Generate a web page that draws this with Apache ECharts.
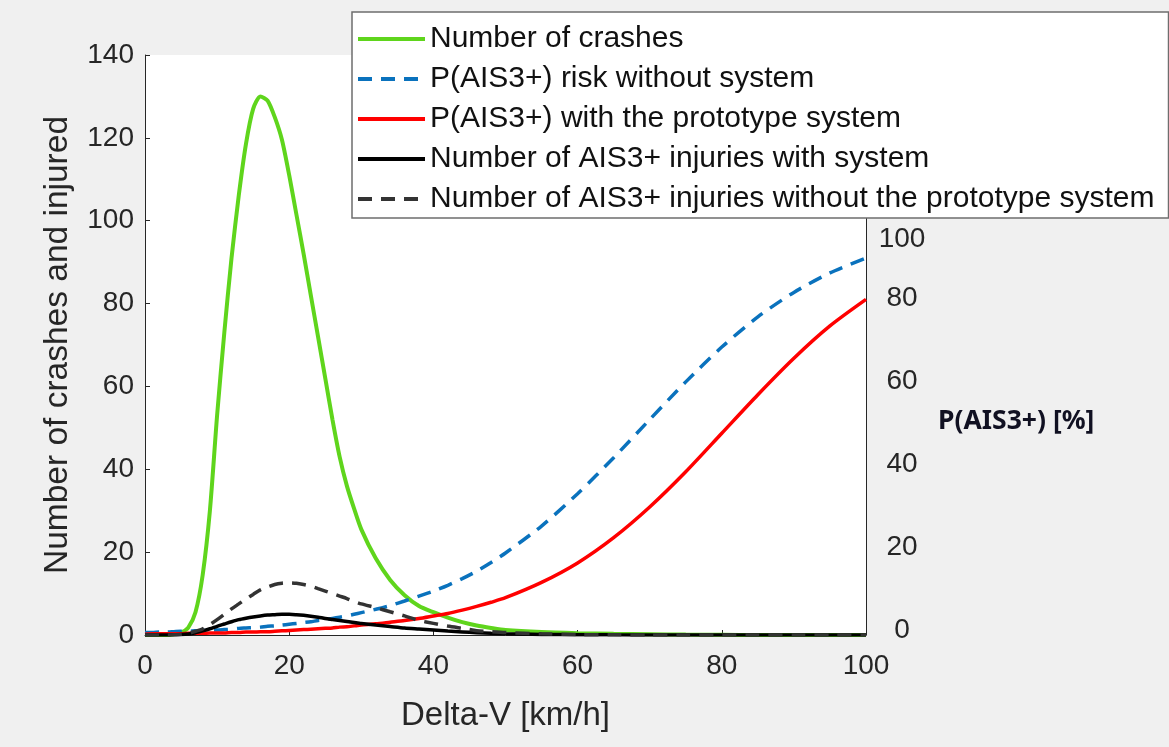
<!DOCTYPE html>
<html>
<head>
<meta charset="utf-8">
<script src="https://cdn.jsdelivr.net/npm/echarts@6/dist/echarts.min.js"></script>
<style>
html,body{margin:0;padding:0;background:#f0f0f0;}
#chart{width:1169px;height:747px;}
</style>
</head>
<body>
<div id="chart"></div>
<script>
// Delta-V [km/h]
const speeds = [0,1,2,3,4,5,6,7,8,9,10,11,12,13,14,15,16,17,18,19,20,21,22,23,24,25,26,27,28,29,30,
  32,34,36,38,40,42,44,46,48,50,55,60,65,70,75,80,85,90,95,100];
// Number of crashes
const crashes = [0,0,0,0,0.2,0.6,1.8,5.5,14.5,30,53,73,91,106,118.5,127,130,129,125,119.5,111,101.5,92,82,72,62,52,43,36,30.5,25.5,
  18.5,13.3,9.6,7,5.5,4.2,3.1,2.3,1.7,1.2,0.7,0.45,0.3,0.2,0.1,0.05,0,0,0,0];
// P(AIS3+) risk without system [%]
const riskWithout = [0.6,0.6,0.7,0.7,0.8,0.9,0.9,1.0,1.1,1.2,1.2,1.3,1.4,1.6,1.7,1.8,1.9,2.1,2.2,2.4,2.6,2.8,3.0,3.2,3.5,3.7,4.0,4.3,4.6,5.0,5.4,
  6.2,7.1,8.2,9.4,10.6,12.0,13.6,15.4,17.5,19.8,26.3,34.1,42.8,52,61.1,69.5,76.8,82.7,87.4,91];
// P(AIS3+) with the prototype system [%]
const riskWith = [0.2,0.3,0.3,0.3,0.3,0.3,0.4,0.4,0.4,0.5,0.5,0.5,0.6,0.6,0.7,0.7,0.8,0.8,0.9,1.0,1.1,1.2,1.3,1.4,1.5,1.6,1.7,1.9,2.0,2.2,2.4,
  2.7,3.1,3.5,4.0,4.6,5.2,6.0,6.9,7.9,9.0,12.7,17.4,23.5,30.9,39.4,48.7,58,66.8,74.6,81];
// Number of AIS3+ injuries with system
const injWith = [0,0,0,0,0.05,0.1,0.25,0.55,1.0,1.5,2.1,2.65,3.2,3.7,4.05,4.35,4.6,4.8,4.9,5.0,5.0,4.9,4.75,4.55,4.3,4.0,3.75,3.5,3.25,3.0,2.8,
  2.4,2.05,1.7,1.45,1.2,0.95,0.75,0.55,0.4,0.3,0.15,0.08,0.04,0.02,0,0,0,0,0,0];
// Number of AIS3+ injuries without the prototype system
const injWithout = [0,0,0,0,0.05,0.15,0.4,0.9,1.5,2.5,3.7,5.0,6.3,7.5,8.7,9.8,10.9,11.6,12.2,12.5,12.6,12.5,12.2,11.8,11.2,10.6,10.0,9.4,8.8,8.1,7.5,
  6.6,5.6,4.6,3.5,2.8,2.15,1.6,1.05,0.8,0.6,0.3,0.1,0.05,0,0,0,0,0,0,0];

const seriesNames = ['Number of crashes','P(AIS3+) risk without system','P(AIS3+) with the prototype system',
  'Number of AIS3+ injuries with system','Number of AIS3+ injuries without the prototype system'];
const xTicks = [0,20,40,60,80,100];
const leftTicks = [0,20,40,60,80,100,120,140];
const rightTicks = [0,20,40,60,80,100];

const pair = arr => speeds.map((v,i)=>[v,arr[i]]);
const txt = '#262626';
const font = 'Liberation Sans, Arial, Helvetica, sans-serif';

const chart = echarts.init(document.getElementById('chart'));
chart.setOption({
  backgroundColor:'#f0f0f0',
  animation:false,
  textStyle:{fontFamily:font},
  grid:{left:145,right:303,top:55,bottom:112,show:true,backgroundColor:'#ffffff',borderWidth:0,containLabel:false},
  legend:{
    orient:'vertical',left:352,top:12,
    padding:[12,14,4,4],
    itemWidth:67,itemHeight:14,itemGap:10,
    backgroundColor:'#ffffff',borderColor:'#6e6e6e',borderWidth:1.5,
    itemStyle:{color:'rgba(0,0,0,0)',borderColor:'rgba(0,0,0,0)',borderWidth:0},
    lineStyle:{width:4},
    textStyle:{fontSize:30,color:'#111',lineHeight:30,fontFamily:font},
    data:seriesNames
  },
  xAxis:{
    type:'value',min:0,max:100,interval:20,
    name:'Delta-V [km/h]',nameLocation:'middle',nameGap:64,
    nameTextStyle:{fontSize:33,color:txt,fontFamily:font},
    axisLine:{show:true,onZero:false,lineStyle:{color:txt,width:1}},
    axisTick:{show:true,inside:true,length:5,lineStyle:{color:txt}},
    axisLabel:{fontSize:28,color:txt,margin:17,fontFamily:font},
    splitLine:{show:false}
  },
  yAxis:[{
    type:'value',min:0,max:140,interval:20,position:'left',
    name:'Number of crashes and injured',nameLocation:'middle',nameGap:70,
    nameTextStyle:{fontSize:33.5,color:txt,fontFamily:font},
    axisLine:{show:true,lineStyle:{color:txt,width:1}},
    axisTick:{show:true,inside:true,length:5,lineStyle:{color:txt}},
    axisLabel:{fontSize:28,color:txt,margin:11,fontFamily:font,
      formatter:v=>leftTicks.indexOf(v)>=0?String(v):''},
    splitLine:{show:false}
  },{
    type:'value',min:0,max:140,interval:20,position:'right',
    axisLine:{show:true,lineStyle:{color:txt,width:1}},
    axisTick:{show:false},
    axisLabel:{fontSize:28,color:txt,margin:36,align:'center',fontFamily:font,
      formatter:v=>{
        if(rightTicks.indexOf(v)<0) return '';
        return v===100?'{d|'+v+'}':'{u|'+v+'}';
      },
      rich:{
        u:{fontSize:28,color:txt,fontFamily:font,padding:[0,0,10,0]},
        d:{fontSize:28,color:txt,fontFamily:font,padding:[38,0,0,0]}
      }
    },
    splitLine:{show:false}
  }],
  graphic:[{
    type:'text',left:938,top:408,
    style:{text:'P(AIS3+) [%]',font:'bold 26.5px "Noto Sans", "Open Sans", sans-serif',fill:'#111122'}
  }],
  series:[
    {name:seriesNames[0],type:'line',data:pair(crashes),symbol:'none',smooth:0.25,
      lineStyle:{color:'#5fd51c',width:4},itemStyle:{color:'#5fd51c'}},
    {name:seriesNames[1],type:'line',yAxisIndex:1,data:pair(riskWithout),symbol:'none',smooth:0.25,
      lineStyle:{color:'#0a72bd',width:3.5,type:[14,9]},itemStyle:{color:'#0a72bd'}},
    {name:seriesNames[2],type:'line',yAxisIndex:1,data:pair(riskWith),symbol:'none',smooth:0.25,
      lineStyle:{color:'#ff0000',width:3.5},itemStyle:{color:'#ff0000'}},
    {name:seriesNames[3],type:'line',data:pair(injWith),symbol:'none',smooth:0.25,
      lineStyle:{color:'#000000',width:3.5},itemStyle:{color:'#000000'}},
    {name:seriesNames[4],type:'line',data:pair(injWithout),symbol:'none',smooth:0.25,
      lineStyle:{color:'#333333',width:3.5,type:[14,9]},itemStyle:{color:'#333333'}}
  ]
});
</script>
</body>
</html>
